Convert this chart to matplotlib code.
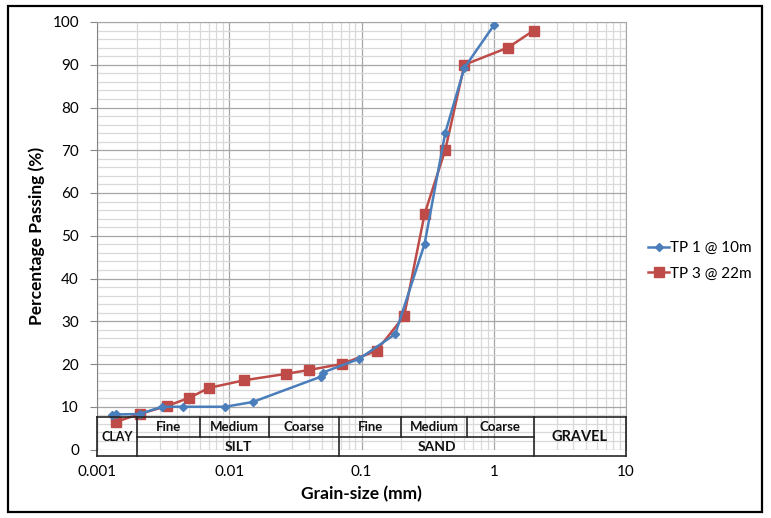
import matplotlib
matplotlib.use("Agg")
import matplotlib.pyplot as plt
from matplotlib.patches import Rectangle
from matplotlib.ticker import LogLocator, MultipleLocator, FixedLocator, FixedFormatter

plt.rcParams["font.family"] = ["Lato", "DejaVu Sans"]

# TP 1 @ 10m
tp1_size = [0.0013, 0.0014, 0.0021, 0.0031, 0.0045, 0.0093, 0.015, 0.049, 0.051, 0.096, 0.18, 0.30, 0.43, 0.60, 1.0]
tp1_pass = [8.1, 8.2, 8.3, 10.0, 10.0, 10.0, 11.1, 17.0, 18.0, 21.2, 27.0, 48.1, 74.1, 89.3, 99.2]

# TP 3 @ 22m
tp3_size = [0.0014, 0.0021, 0.0034, 0.005, 0.007, 0.013, 0.027, 0.040, 0.071, 0.13, 0.21, 0.30, 0.43, 0.60, 1.28, 2.0]
tp3_pass = [6.5, 8.3, 10.2, 12.1, 14.4, 16.2, 17.7, 18.6, 20.0, 23.1, 31.2, 55.1, 70.1, 90.0, 94.0, 98.0]

# soil classification bands (mm)
class_edges = [0.001, 0.002, 0.006, 0.02, 0.068, 0.2, 0.63, 2.0, 10.0]
sub_labels = ["Fine", "Medium", "Coarse", "Fine", "Medium", "Coarse"]
main_labels = ["CLAY", "SILT", "SAND", "GRAVEL"]

blue = "#4a7ebb"
red = "#be4b48"

fig = plt.figure(figsize=(7.71, 5.18), dpi=100)
ax = fig.add_axes([97 / 771, 1 - 449.5 / 518, 529 / 771, 427.5 / 518])

ax.set_xscale("log")
ax.set_xlim(0.001, 10)
ax.set_ylim(0, 100)

ax.xaxis.set_major_locator(FixedLocator([0.001, 0.01, 0.1, 1, 10]))
ax.xaxis.set_major_formatter(FixedFormatter(["0.001", "0.01", "0.1", "1", "10"]))
ax.xaxis.set_minor_locator(LogLocator(base=10, subs=range(2, 10)))
ax.xaxis.set_minor_formatter(FixedFormatter([]))
ax.yaxis.set_major_locator(MultipleLocator(10))
ax.yaxis.set_minor_locator(MultipleLocator(2))

ax.grid(which="major", color="#a6a6a6", linewidth=0.9)
ax.grid(which="minor", color="#d9d9d9", linewidth=0.9)
ax.set_axisbelow(True)
ax.tick_params(axis="x", which="both", length=0, labelsize=11, pad=11)
ax.tick_params(axis="y", which="major", length=5, color="#868686", labelsize=11, pad=8)
ax.tick_params(axis="y", which="minor", length=0)
for s in ax.spines.values():
    s.set_color("#a6a6a6")
ax.spines["bottom"].set_visible(False)
ax.spines["left"].set_color("#868686")

ax.plot(tp1_size, tp1_pass, color=blue, linewidth=1.8, marker="D", markersize=4.5,
        label="TP 1 @ 10m", zorder=4)
ax.plot(tp3_size, tp3_pass, color=red, linewidth=1.8, marker="s", markersize=6.5,
        label="TP 3 @ 22m", zorder=3)

# classification table at the bottom
y_top, y_mid, y_bot = 7.7, 3.0, -1.45
kw = dict(color="#262626", linewidth=1.2, clip_on=False, zorder=5)
ax.plot([class_edges[0], class_edges[-1]], [y_top, y_top], **kw)
ax.plot([class_edges[0], class_edges[-1]], [y_bot, y_bot], **kw)
ax.plot([class_edges[1], class_edges[7]], [y_mid, y_mid], **kw)
for e in [class_edges[0], class_edges[1], class_edges[4], class_edges[7], class_edges[8]]:
    ax.plot([e, e], [y_bot, y_top], **kw)
for e in [class_edges[2], class_edges[3], class_edges[5], class_edges[6]]:
    ax.plot([e, e], [y_mid, y_top], **kw)

def band_text(lo, hi, y, label, size):
    ax.text((lo * hi) ** 0.5, y, label, ha="center", va="center", fontsize=size,
            fontweight="bold", color="#111111", zorder=6, clip_on=False)

for i, lab in enumerate(sub_labels):
    band_text(class_edges[i + 1], class_edges[i + 2], (y_top + y_mid) / 2, lab, 9.5)
band_text(class_edges[0], class_edges[1], (y_top + y_bot) / 2 - 0.3, main_labels[0], 9)
band_text(class_edges[1], class_edges[4], (y_mid + y_bot) / 2 - 0.3, main_labels[1], 10)
band_text(class_edges[4], class_edges[7], (y_mid + y_bot) / 2 - 0.3, main_labels[2], 10)
band_text(class_edges[7], class_edges[8], (y_top + y_bot) / 2 - 0.3, main_labels[3], 10.5)

ax.set_xlabel("Grain-size (mm)", fontsize=12.5, fontweight="bold", labelpad=5)
ax.set_ylabel("Percentage Passing (%)", fontsize=12.5, fontweight="bold", labelpad=5)

fig.legend(loc="center left", bbox_to_anchor=(648 / 771, 1 - 261 / 518), frameon=False,
           fontsize=11, handlelength=1.4, handletextpad=0.05, labelspacing=0.75,
           borderpad=0, borderaxespad=0)

fig.patches.append(Rectangle((8 / 771, 6 / 518), 754 / 771, 506 / 518, transform=fig.transFigure,
                             fill=False, edgecolor="black", linewidth=1.6))

fig.savefig("out.png", dpi=100)
